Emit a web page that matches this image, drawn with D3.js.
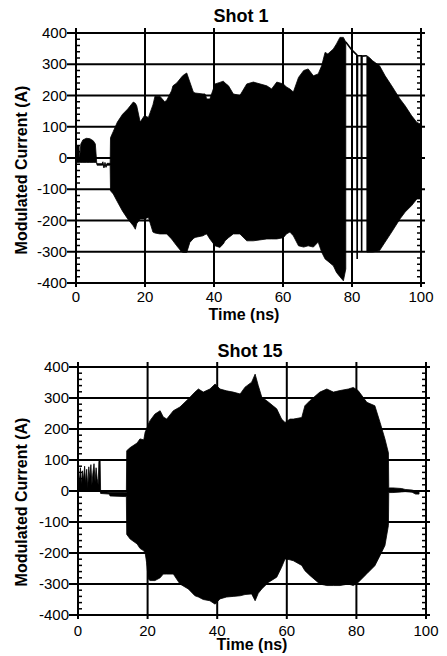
<!DOCTYPE html>
<html lang="en-us">
  <head>
    <meta charset="UTF-8">
    <title>Modulated Current - Shot 1 / Shot 15</title>
    <script src="https://d3js.org/d3.v7.min.js"></script>
    <style>
      body { margin: 0; background: #fff; }
      text { font-family: "Liberation Sans", Arial, Helvetica, sans-serif; fill: #000; }
    </style>
  </head>
  <body>
    <svg id="chart" width="447" height="656"></svg>
    <script>
      // tick values
      var timeTicks = [0, 20, 40, 60, 80, 100];
      var currentTicks = [-400, -300, -200, -100, 0, 100, 200, 300, 400];

      // Shot 1 : envelope of the oscillation (upper / lower, null = gap)
      var shot1Time = [0, 0.9, 1.0, 1.4, 2.0, 3.0, 4.0, 5.0, 5.6, 6.0, 6.1, 7.5, 7.8, 8.1, 8.4, 8.7, 9.0, 9.9,
        10.0, 10.8, 12, 13.5, 15, 16.6, 17.2, 17.6, 18.6, 19.8, 21, 22.3, 22.9, 24.3, 25.7, 26.3, 27.7, 28.1, 29.2,
        30.6, 31.1, 32.1, 33, 34, 34.5, 36.8, 37.4, 37.9, 38.8, 40.3, 41.7, 42.7, 43.2, 44.2, 45.6, 47.5, 49.5,
        51.4, 55.3, 56.7, 58.2, 60.1, 61, 62, 63, 64.5, 66, 67.3, 68.8, 70.2, 71.2, 72.2, 73, 74.6, 75.5, 76.5,
        77.5, 78.2, 78.5, 84.3, 85, 86, 88, 89.6, 91.5, 93.9, 95.4, 97.3, 98.8, 100];
      var shot1Upper = [39, 39, -8, 45, 58, 63, 62, 55, 45, -14, -18, -18, -12, -26, -14, -24, -17, -17,
        65, 85, 115, 140, 157, 179, 175, 167, 115, 135, 130, 170, 198, 198, 180, 185, 215, 231, 240,
        259, 265, 272, 243, 211, 208, 205, 205, 189, 189, 237, 242, 246, 240, 231, 205, 200, 237,
        243, 231, 221, 243, 237, 227, 221, 211, 258, 280, 285, 263, 269, 295, 338, 333, 349, 365, 386,
        386, 371, null, 327, 322, 311, 295, 263, 231, 189, 167, 135, 114, 108];
      var shot1Lower = [-14, -14, -14, -14, -14, -14, -14, -14, -14, -16, -23, -23, -22, -32, -22, -30, -23, -23,
        -105, -115, -140, -170, -195, -217, -228, -210, -195, -195, -190, -237, -240, -243, -243, -243, -259, -265, -281,
        -300, -302, -302, -270, -258, -254, -249, -245, -243, -259, -281, -286, -275, -265, -255, -243, -243, -265,
        -265, -259, -259, -259, -255, -243, -237, -249, -281, -285, -281, -285, -269, -301, -323, -330, -345, -366, -380,
        -393, -355, null, -301, -301, -301, -296, -269, -237, -195, -173, -152, -131, -131];

      // Shot 1 : thin trace inside the gap near 80 ns
      var shot1GapTime = [78.2, 80.0, 81.4, 81.5, 81.6, 82.7, 82.8, 82.9, 84.3];
      var shot1GapCurrent = [371, 345, 330, -323, 328, 327, -301, 326, 327];

      // Shot 15 : envelope of the oscillation
      var shot15Time = [0, 0.4, 0.7, 1.0, 1.3, 1.6, 1.9, 2.2, 2.5, 2.8, 3.1, 3.4, 3.7, 4.0, 4.3, 4.6, 4.9, 5.2, 5.5,
        5.8, 6.0, 6.2, 6.35, 6.5, 9.0, 9.2, 13.5, 13.9,
        14, 15, 17, 17.8, 18.9, 19.3, 19.7, 20.2, 20.7, 22.1, 23.6, 24.5, 25.5, 27.4, 29.3, 31.7, 33.6, 34.6, 36,
        37.9, 39.4, 40.8, 42.7, 44.6, 46.6, 48, 49.9, 50.9, 51.8, 52.8, 54.7, 57.1, 58.5, 59.5, 60.9, 61.9, 64.3,
        65.2, 66.7, 69.5, 71.5, 73.4, 75.3, 77.7, 79.1, 80.5, 83, 85.3, 86.8, 88.2, 89.2,
        89.3, 90.5, 93, 94, 96, 97, 98];
      var shot15Upper = [70, 30, 75, 20, 65, 35, 80, 25, 70, 10, 78, 40, 85, 20, 60, 88, 30, 75, 40,
        20, 95, 100, 100, -2, -4, -4, -5, -5,
        130, 140, 155, 168, 165, 190, 200, 215, 227, 248, 259, 239, 232, 259, 271, 297, 319, 329, 319,
        329, 345, 329, 323, 319, 313, 335, 351, 377, 340, 303, 287, 265, 232, 221, 232, 232, 237,
        275, 292, 319, 329, 319, 324, 329, 334, 324, 286, 275, 221, 168, 123,
        10, 10, 8, 5, 3, 0, 0];
      var shot15Lower = [2, 2, 2, 2, 2, 2, 2, 2, 2, 2, 2, 2, 2, 2, 2, 2, 2, 2, 2,
        2, 2, 2, 2, -8, -10, -16, -18, -18,
        -140, -155, -171, -185, -193, -200, -230, -284, -289, -289, -280, -268, -268, -268, -300, -316, -338, -342, -350,
        -354, -365, -348, -342, -340, -338, -334, -332, -354, -330, -316, -295, -278, -246, -219, -222, -225, -240,
        -257, -273, -300, -305, -305, -305, -300, -305, -295, -267, -241, -208, -176, -111,
        -5, -5, -3, -2, -4, -10, -10];

      var svg = d3.select("#chart");

      drawPanel({
        title: "Shot 1", titleX: 241, titleY: 22,
        left: 76, right: 421, top: 33, bottom: 283,
        tickLabelY: 302, xLabelY: 320, xLabelX: 244, yLabelY: 170,
        time: shot1Time, upper: shot1Upper, lower: shot1Lower,
        traceTime: shot1GapTime, traceCurrent: shot1GapCurrent
      });

      drawPanel({
        title: "Shot 15", titleX: 250, titleY: 357,
        left: 78, right: 426, top: 367, bottom: 615,
        tickLabelY: 636, xLabelY: 650, xLabelX: 252, yLabelY: 502,
        time: shot15Time, upper: shot15Upper, lower: shot15Lower,
        traceTime: null, traceCurrent: null
      });

      function drawPanel(p) {
        var x = d3.scaleLinear().domain([0, 100]).range([p.left, p.right]);
        var y = d3.scaleLinear().domain([-400, 400]).range([p.bottom, p.top]);
        var g = svg.append("g");

        // grid lines (stick out a little beyond the frame)
        g.selectAll(".hgrid").data(currentTicks).enter().append("line")
          .attr("x1", p.left - 9).attr("x2", p.right + 4)
          .attr("y1", function (d) { return y(d); })
          .attr("y2", function (d) { return y(d); })
          .attr("stroke", "#000").attr("stroke-width", 2);
        g.selectAll(".vgrid").data(timeTicks).enter().append("line")
          .attr("y1", p.top - 5).attr("y2", p.bottom + 4)
          .attr("x1", function (d) { return x(d); })
          .attr("x2", function (d) { return x(d); })
          .attr("stroke", "#000").attr("stroke-width", 2);

        // minor ticks on left and right axes
        var minor = d3.range(-400, 401, 20).filter(function (d) { return d % 100 !== 0; });
        g.selectAll(".minL").data(minor).enter().append("line")
          .attr("x1", p.left).attr("x2", p.left + 4)
          .attr("y1", function (d) { return y(d); })
          .attr("y2", function (d) { return y(d); })
          .attr("stroke", "#000").attr("stroke-width", 1.5);
        g.selectAll(".minR").data(minor).enter().append("line")
          .attr("x1", p.right - 4).attr("x2", p.right)
          .attr("y1", function (d) { return y(d); })
          .attr("y2", function (d) { return y(d); })
          .attr("stroke", "#000").attr("stroke-width", 1.5);

        // signal envelope
        var idx = d3.range(p.time.length);
        var area = d3.area()
          .defined(function (i) { return p.upper[i] !== null; })
          .x(function (i) { return x(p.time[i]); })
          .y0(function (i) { return y(p.lower[i]); })
          .y1(function (i) { return y(p.upper[i]); });
        g.append("path").datum(idx).attr("d", area)
          .attr("fill", "#000").attr("stroke", "#000").attr("stroke-width", 0.8);

        if (p.traceTime) {
          var tIdx = d3.range(p.traceTime.length);
          var line = d3.line()
            .x(function (i) { return x(p.traceTime[i]); })
            .y(function (i) { return y(p.traceCurrent[i]); });
          g.append("path").datum(tIdx).attr("d", line)
            .attr("fill", "none").attr("stroke", "#000").attr("stroke-width", 1.6);
        }

        // tick labels
        g.selectAll(".ylab").data(currentTicks).enter().append("text")
          .attr("x", p.left - 9)
          .attr("y", function (d) { return y(d) + 5; })
          .attr("text-anchor", "end")
          .attr("font-size", 15)
          .text(function (d) { return d; });
        g.selectAll(".xlab").data(timeTicks).enter().append("text")
          .attr("x", function (d) { return x(d); })
          .attr("y", p.tickLabelY)
          .attr("text-anchor", "middle")
          .attr("font-size", 15)
          .text(function (d) { return d; });

        // titles
        g.append("text").attr("x", p.titleX).attr("y", p.titleY)
          .attr("text-anchor", "middle").attr("font-size", 18).attr("font-weight", "bold")
          .text(p.title);
        g.append("text").attr("x", p.xLabelX).attr("y", p.xLabelY)
          .attr("text-anchor", "middle").attr("font-size", 16).attr("font-weight", "bold")
          .text("Time (ns)");
        g.append("text")
          .attr("transform", "translate(27," + p.yLabelY + ") rotate(-90)")
          .attr("text-anchor", "middle").attr("font-size", 16).attr("font-weight", "bold")
          .text("Modulated Current (A)");
      }
    </script>
  </body>
</html>
